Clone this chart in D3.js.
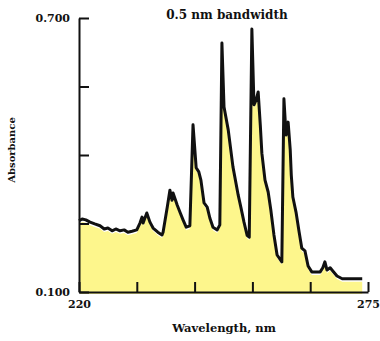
<!DOCTYPE html>
<meta charset="utf-8">
<style>
body { margin: 0; background: #fff; }
text { font-family: "DejaVu Serif", serif; font-weight: bold; fill: #111; }
.axis path, .axis line { stroke: #111; stroke-width: 2; }
.spectrum { fill: none; stroke: #111; stroke-width: 3; stroke-linejoin: round; }
.fill { fill: #fdf68c; }
</style>
<body>
<script src="https://cdn.jsdelivr.net/npm/d3@7"></script>
<script>

var width = 380,
    height = 341;

// wavelength (nm) and absorbance
var wavelength = [
  220.0, 220.6, 221.3, 222.1, 223.0, 224.0, 224.8, 225.5, 226.3, 227.0,
  227.8, 228.6, 229.3, 230.1, 231.0, 231.6, 232.0, 232.2, 232.9, 233.5,
  234.1, 235.0, 235.8, 236.0, 236.8, 237.3, 237.7, 237.9, 238.7, 239.2,
  239.8, 240.4, 241.1, 241.7, 242.3, 242.8, 243.2, 243.8, 244.4, 244.9,
  245.5, 246.3, 246.8, 247.2, 247.6, 248.4, 249.3, 250.3, 250.8, 251.4,
  252.0, 252.4, 252.9, 253.3, 253.7, 254.1, 254.5, 254.8, 255.4, 256.0,
  256.5, 257.1, 257.7, 258.6, 259.0, 259.4, 259.8, 260.2, 260.4, 260.7,
  261.3, 261.9, 262.4, 263.0, 263.6, 264.3, 265.9, 266.4, 266.8, 267.2,
  267.8, 268.3, 269.1, 270.1, 273.9
];
var absorbance = [
  0.256, 0.260, 0.258, 0.253, 0.249, 0.245, 0.238, 0.240, 0.234, 0.238,
  0.234, 0.236, 0.231, 0.233, 0.236, 0.251, 0.264, 0.251, 0.273, 0.253,
  0.240, 0.231, 0.225, 0.231, 0.286, 0.323, 0.301, 0.317, 0.290, 0.275,
  0.258, 0.242, 0.245, 0.466, 0.372, 0.363, 0.345, 0.295, 0.286, 0.262,
  0.242, 0.236, 0.247, 0.645, 0.505, 0.455, 0.374, 0.312, 0.286, 0.253,
  0.224, 0.220, 0.676, 0.510, 0.520, 0.538, 0.466, 0.404, 0.345, 0.319,
  0.280, 0.225, 0.181, 0.166, 0.523, 0.444, 0.472, 0.411, 0.356, 0.308,
  0.275, 0.231, 0.196, 0.190, 0.157, 0.144, 0.144, 0.153, 0.166, 0.148,
  0.153, 0.146, 0.135, 0.129, 0.129
];

var xTicks = [220, 231, 242, 253, 264, 275];
var yTicks = [0.100, 0.250, 0.400, 0.550, 0.700];
var xLabelled = [220, 275];
var yLabelled = [0.100, 0.700];

var data = wavelength.map(function(w, i) { return [w, absorbance[i]]; });

var svg = d3.select("body").append("svg")
    .attr("width", width)
    .attr("height", height);

var x = d3.scaleLinear().domain([220, 275]).range([79, 368]);
var y = d3.scaleLinear().domain([0.1, 0.7]).range([292, 18]);

svg.append("clipPath")
    .attr("id", "plot")
  .append("rect")
    .attr("x", 80).attr("y", 18)
    .attr("width", 288).attr("height", 273);

// yellow fill, printed slightly off register from the line
svg.append("path")
    .datum(data)
    .attr("class", "fill")
    .attr("clip-path", "url(#plot)")
    .attr("transform", "translate(0,3)")
    .attr("d", d3.area()
        .x(function(d) { return x(d[0]); })
        .y0(y(0.1))
        .y1(function(d) { return y(d[1]); }));

svg.append("path")
    .datum(data)
    .attr("class", "spectrum")
    .attr("d", d3.line()
        .x(function(d) { return x(d[0]); })
        .y(function(d) { return y(d[1]); }));

// axes, ticks pointing into the plot
svg.append("g")
    .attr("class", "axis")
    .attr("transform", "translate(0,292)")
    .call(d3.axisBottom(x)
        .tickValues(xTicks)
        .tickSize(-10)
        .tickSizeOuter(0)
        .tickPadding(8)
        .tickFormat(function(d) { return xLabelled.indexOf(d) >= 0 ? d : ""; }))
    .call(function(g) { g.selectAll("text").attr("font-size", 11); });

svg.append("g")
    .attr("class", "axis")
    .attr("transform", "translate(79,0)")
    .call(d3.axisLeft(y)
        .tickValues(yTicks)
        .tickSize(-10)
        .tickSizeOuter(0)
        .tickPadding(9)
        .tickFormat(function(d) { return yLabelled.indexOf(d) >= 0 ? d3.format(".3f")(d) : ""; }))
    .call(function(g) { g.selectAll("text").attr("font-size", 11); });

svg.selectAll(".axis").attr("font-family", null);

// titles
svg.append("text")
    .attr("x", 227).attr("y", 19)
    .attr("text-anchor", "middle")
    .attr("font-size", 12)
    .text("0.5 nm bandwidth");

svg.append("text")
    .attr("x", 224).attr("y", 332)
    .attr("text-anchor", "middle")
    .attr("font-size", 11.5)
    .text("Wavelength, nm");

svg.append("text")
    .attr("transform", "translate(15,150) rotate(-90)")
    .attr("text-anchor", "middle")
    .attr("font-size", 10)
    .text("Absorbance");

</script>
